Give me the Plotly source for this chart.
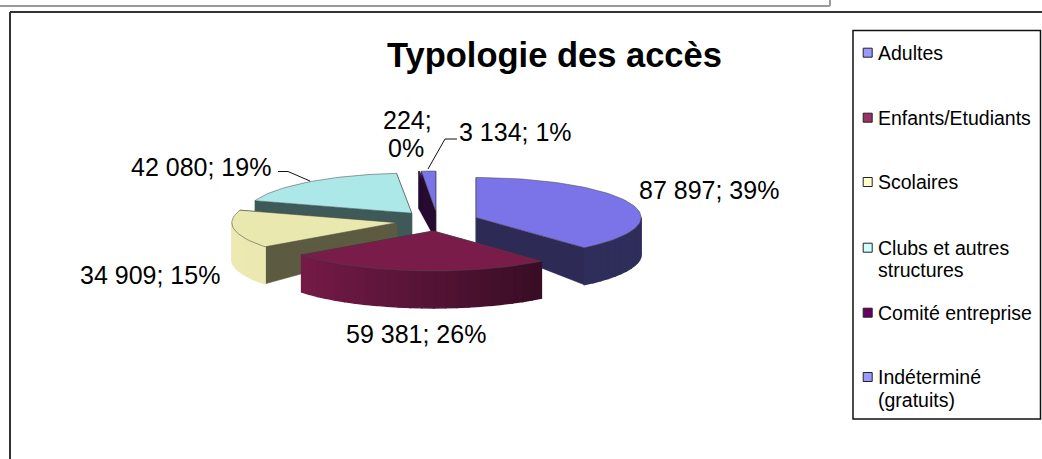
import math
import plotly.graph_objects as go

categories = ["Adultes", "Enfants/Etudiants", "Scolaires", "Clubs et autres structures", "Comité entreprise", "Indéterminé (gratuits)"]
values = [87897, 59381, 34909, 42080, 224, 3134]
percent_labels = [39, 26, 15, 19, 0, 1]
legend_lines = [["Adultes"], ["Enfants/Etudiants"], ["Scolaires"], ["Clubs et autres", "structures"], ["Comité entreprise"], ["Indéterminé", "(gratuits)"]]

# styles
TOP = ["#7b74e8", "#7a1c4a", "#e9e8ae", "#ade8e8", "#2a0a34", "#7b74e8"]
CUT = ["#2d2b55", "#4a1030", "#5c5a40", "#3d5a58", "#260a30", "#260a30"]
RIM_L = ["#2d2b55", "#7c1c4c", "#ece9b2", "#3d5a58", "#260a30", "#260a30"]
RIM_R = ["#2f2d5a", "#2a0a1c", "#dcdca0", "#3d5a58", "#260a30", "#260a30"]
LEG = ["#9999ff", "#993366", "#ffffcc", "#ccffff", "#660066", "#9999ff"]
FONT = "Liberation Sans, Arial, sans-serif"
CX, CY, A, B, EXPLODE = 437.5, 221.0, 165.0, 40.0, 0.25
ORDER = [3, 4, 5, 2, 0, 1]

fig = go.Figure()


def poly(pts, fill, line=None, width=0.6):
    fig.add_trace(go.Scatter(x=[p[0] for p in pts] + [pts[0][0]], y=[p[1] for p in pts] + [pts[0][1]],
                             mode="lines", fill="toself", fillcolor=fill,
                             line=dict(color=line or fill, width=width), hoverinfo="skip", showlegend=False))


def mix(c1, c2, t):
    a = [int(c1[i:i + 2], 16) for i in (1, 3, 5)]
    b = [int(c2[i:i + 2], 16) for i in (1, 3, 5)]
    return "#" + "".join(f"{round(x + (y - x) * t):02x}" for x, y in zip(a, b))


total = sum(values)
bounds = [0.0]
for v in values:
    bounds.append(bounds[-1] + v / total * 360)


def depth(r):
    return 25 + 12 * r


for i in ORDER:
    t0, t1 = bounds[i], bounds[i + 1]
    mid = math.radians((t0 + t1) / 2)
    ox = CX + EXPLODE * A * math.sin(mid)
    oy = CY - EXPLODE * B * math.cos(mid)

    def pt(deg, r=1.0, low=False):
        d = math.radians(deg)
        return (ox + r * A * math.sin(d), oy - r * B * math.cos(d) + (depth(r) if low else 0))

    for t in (t0, t1):
        poly([pt(t, 0), pt(t), pt(t, 1, True), pt(t, 0, True)], CUT[i])
    lo, hi = max(t0, 90), min(t1, 270)
    if hi > lo:
        if RIM_L[i] == RIM_R[i]:
            n = 1
        else:
            n = max(1, int((hi - lo) / 4))
        for k in range(n):
            a0, a1 = lo + (hi - lo) * k / n, lo + (hi - lo) * (k + 1) / n
            xn = (pt((a0 + a1) / 2)[0] - (ox - A)) / (2 * A)
            sub = [a0 + (a1 - a0) * j / 6 for j in range(7)]
            poly([pt(a) for a in sub] + [pt(a, 1, True) for a in reversed(sub)],
                 mix(RIM_L[i], RIM_R[i], xn), width=1.4)
    n = max(2, int((t1 - t0) / 2))
    arc = [pt(t0 + (t1 - t0) * k / n) for k in range(n + 1)]
    poly([pt(t0, 0)] + arc, TOP[i], "rgba(70,70,70,0.75)", 0.7)

# leader lines (decoration)
for xs, ys in [([278, 288, 310], [171.5, 171.5, 181]), ([457, 445, 428], [139, 139, 169])]:
    fig.add_trace(go.Scatter(x=xs, y=ys, mode="lines", line=dict(color="#111", width=1), hoverinfo="skip", showlegend=False))

annotations = []


def text(x, y, s, size, bold=False, anchor="center"):
    annotations.append(dict(x=x, y=y, xref="x", yref="y", text=f"<b>{s}</b>" if bold else s, showarrow=False,
                            xanchor=anchor, yanchor="middle", align="left" if anchor == "left" else "center",
                            font=dict(family=FONT, size=size, color="#000")))


def fmt(i):
    return f"{values[i]:,}".replace(",", " ") + ";"


text(554, 55, "Typologie des accès", 34.5, bold=True)
label_pos = {0: (709, 190), 1: (416, 334), 2: (150, 275), 3: (201, 167), 5: (515, 132)}
for i, (x, y) in label_pos.items():
    text(x, y, f"{fmt(i)} {percent_labels[i]}%", 25)
text(407, 120, fmt(4), 25)
text(406, 148, f"{percent_labels[4]}%", 25)

leg_y = [52.7, 117.7, 182, 247.7, 312.7, 377]
for i, lines in enumerate(legend_lines):
    fig.add_trace(go.Scatter(x=[867.7], y=[leg_y[i]], mode="markers", hoverinfo="skip", showlegend=False,
                             marker=dict(symbol="square", size=9, color=LEG[i], line=dict(color="#222", width=1))))
    for j, s in enumerate(lines):
        text(875.5, leg_y[i] + j * 22.5, s, 19.5, anchor="left")

shapes = [
    dict(type="rect", x0=853, y0=30.5, x1=1040.5, y1=419, line=dict(color="#111", width=1.5)),
    dict(type="line", x0=10, y0=12, x1=1042, y1=12, line=dict(color="#333", width=2)),
    dict(type="line", x0=10, y0=12, x1=10, y1=459, line=dict(color="#333", width=2)),
    dict(type="line", x0=0, y0=6, x1=830, y1=6, line=dict(color="#999", width=2)),
    dict(type="line", x0=830, y0=0, x1=830, y1=6, line=dict(color="#999", width=2)),
]

fig.update_layout(width=1042, height=459, margin=dict(l=0, r=0, t=0, b=0), paper_bgcolor="white", plot_bgcolor="white",
                  showlegend=False, annotations=annotations, shapes=shapes,
                  xaxis=dict(range=[0, 1042], visible=False, fixedrange=True),
                  yaxis=dict(range=[459, 0], visible=False, fixedrange=True))
fig.write_html("out.html", config=dict(displayModeBar=False),
               post_script="document.body.style.margin='0';")
